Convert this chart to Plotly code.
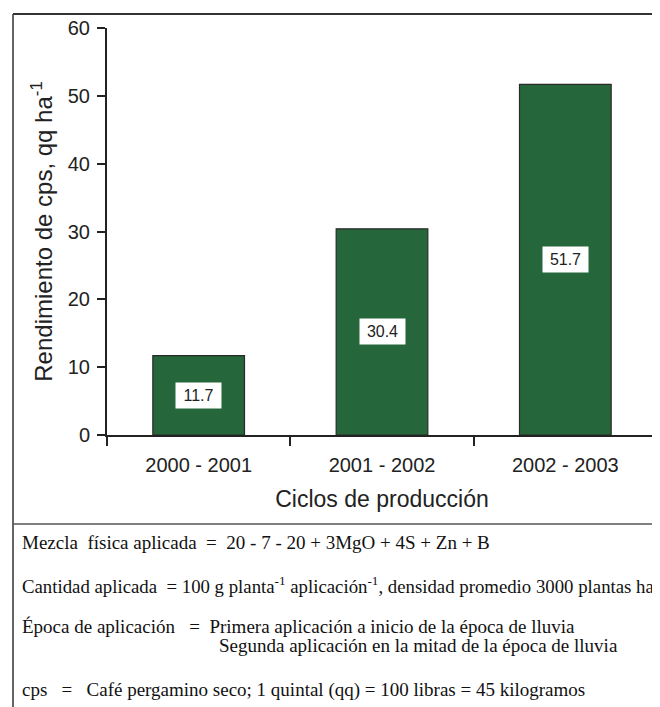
import plotly.graph_objects as go

# ---- data ----
categories = ["2000 - 2001", "2001 - 2002", "2002 - 2003"]
rendimiento = [11.7, 30.4, 51.7]
value_labels = ["11.7", "30.4", "51.7"]

notes = [
    "Mezcla  física aplicada  =  20 - 7 - 20 + 3MgO + 4S + Zn + B",
    "Cantidad aplicada  = 100 g planta<sup>-1</sup> aplicación<sup>-1</sup>, densidad promedio 3000 plantas ha<sup>-1</sup>",
    "Época de aplicación   =  Primera aplicación a inicio de la época de lluvia",
    "Segunda aplicación en la mitad de la época de lluvia",
    "cps   =   Café pergamino seco; 1 quintal (qq) = 100 libras = 45 kilogramos",
]

# page body adds an 8px margin; work in window pixels and convert
OFF = 8
W, H = 660 - OFF, 707 - OFF
AX_L, AX_R, AX_T, AX_B = 107, 657, 28, 435   # plot area in window pixels
L = AX_L - OFF
R = W - (AX_R - OFF)
T = AX_T - OFF
B = H - (AX_B - OFF)
PW = W - L - R
PH = H - T - B


def px(x):
    return (x - OFF - L) / PW


def py(y):
    return (H - B - (y - OFF)) / PH


SANS = "Liberation Sans, Arial, sans-serif"
SERIF = "Liberation Serif, Times New Roman, serif"
INK = "#222222"

fig = go.Figure()
fig.add_trace(go.Bar(
    x=categories,
    y=rendimiento,
    width=0.5,
    marker=dict(color="#25673A", line=dict(color="#2a2a2a", width=1.2)),
    hoverinfo="x+y",
))

annotations = []
for c, v, t in zip(categories, rendimiento, value_labels):
    annotations.append(dict(
        x=c, y=v / 2, xref="x", yref="y", text=t, showarrow=False,
        font=dict(family=SANS, size=16, color=INK),
        bgcolor="white", width=45, height=25, borderpad=0,
    ))

note_pos = [(20, 542), (20, 585), (20, 626), (217, 645), (20, 690)]
note_sizes = [19, 18.8, 19, 19, 19]
for txt, (nx, ny), fs in zip(notes, note_pos, note_sizes):
    annotations.append(dict(
        x=px(nx), y=py(ny), xref="paper", yref="paper", text=txt,
        showarrow=False, xanchor="left", yanchor="middle",
        font=dict(family=SERIF, size=fs, color="#111111"),
    ))

shapes = [
    # outer frame: left and top
    dict(type="line", xref="paper", yref="paper", x0=px(13), x1=px(13), y0=py(14), y1=py(707),
         line=dict(color="#333333", width=1.5)),
    dict(type="line", xref="paper", yref="paper", x0=px(13), x1=px(662), y0=py(14), y1=py(14),
         line=dict(color="#333333", width=2)),
    # separator
    dict(type="line", xref="paper", yref="paper", x0=px(13), x1=px(662), y0=py(524), y1=py(524),
         line=dict(color="#555555", width=1.5)),
]

fig.update_layout(
    width=W, height=H,
    margin=dict(l=L, r=R, t=T, b=B, pad=0, autoexpand=False),
    paper_bgcolor="white", plot_bgcolor="white",
    showlegend=False,
    bargap=0.5,
    annotations=annotations,
    shapes=shapes,
    font=dict(family=SANS, color=INK),
)

fig.update_xaxes(
    type="category", range=[-0.5, 2.5], automargin=False,
    showline=True, linecolor=INK, linewidth=2,
    ticks="outside", ticklen=9, tickcolor=INK, tickwidth=1.5,
    tickson="boundaries", showgrid=False, zeroline=False,
    ticklabelstandoff=11,
    tickfont=dict(family=SANS, size=20, color=INK),
    title=dict(text="Ciclos de producción", font=dict(family=SANS, size=23, color=INK), standoff=16),
)
fig.update_yaxes(
    range=[0, 60], tickvals=[0, 10, 20, 30, 40, 50, 60], automargin=False,
    showline=True, linecolor=INK, linewidth=2,
    ticks="outside", ticklen=8, tickcolor=INK, tickwidth=1.5,
    showgrid=False, zeroline=False,
    ticklabelstandoff=3,
    tickfont=dict(family=SANS, size=20, color=INK),
    title=dict(text="Rendimiento de cps, qq ha<sup>-1</sup>", font=dict(family=SANS, size=24, color=INK), standoff=8),
)

fig.write_html("out.html")
